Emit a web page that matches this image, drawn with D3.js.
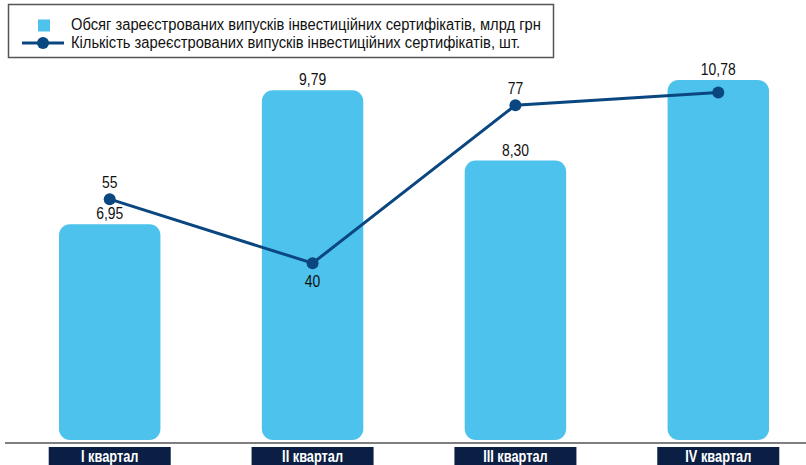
<!DOCTYPE html>
<html>
<head>
<meta charset="utf-8">
<script src="https://cdn.jsdelivr.net/npm/d3@7"></script>
<style>
  html, body { margin: 0; padding: 0; background: #fff; }
  svg { display: block; font-family: "Liberation Sans", Arial, sans-serif; }
</style>
</head>
<body>
<svg id="chart" width="806" height="465"></svg>
<script>
const categories = ["I квартал", "II квартал", "III квартал", "IV квартал"];
const volumeValues = [6.95, 9.79, 8.30, 10.78];
const volumeLabels = ["6,95", "9,79", "8,30", "10,78"];
const countValues = [55, 40, 77, 80];
const countLabels = ["55", "40", "77", ""];
const legendLabels = [
  "Обсяг зареєстрованих випусків інвестиційних сертифікатів, млрд грн",
  "Кількість зареєстрованих випусків інвестиційних сертифікатів, шт."
];

const barColor = "#4cc2ec";
const lineColor = "#0a4780";
const boxColor = "#0b1f44";

const svg = d3.select("#chart");
const at = (x, y, s = 0.82) => `translate(${x},${y}) scale(${s},1)`;

const x = d3.scaleBand().domain(categories).range([59, 769]).paddingInner(0.5).paddingOuter(0);
const yBar = d3.scaleLinear().domain([2.37, 10.01]).range([440, 80]).clamp(true);
const yLine = d3.scaleLinear().domain([0, 100]).range([434, 7]);
const cx = c => x(c) + x.bandwidth() / 2;

// bars
svg.append("g").selectAll("rect").data(categories).join("rect")
  .attr("x", d => x(d))
  .attr("y", (d, i) => yBar(volumeValues[i]))
  .attr("width", x.bandwidth())
  .attr("height", (d, i) => 440 - yBar(volumeValues[i]))
  .attr("rx", 11).attr("ry", 11)
  .attr("fill", barColor);

// bar labels
svg.append("g").selectAll("text").data(categories).join("text")
  .attr("transform", (d, i) => at(cx(d), yBar(volumeValues[i]) - 5))
  .attr("text-anchor", "middle")
  .attr("font-size", 17)
  .attr("fill", "#111")
  .text((d, i) => volumeLabels[i]);

// axis baseline
svg.append("line").attr("x1", 5).attr("x2", 806).attr("y1", 443).attr("y2", 443)
  .attr("stroke", "#7f7f7f").attr("stroke-width", 2);

// category boxes
const cg = svg.append("g").selectAll("g").data(categories).join("g")
  .attr("transform", d => `translate(${cx(d)},0)`);
cg.append("rect").attr("x", -61).attr("y", 447).attr("width", 122).attr("height", 18).attr("fill", boxColor);
cg.append("text").attr("transform", at(0, 461.5, 0.8)).attr("text-anchor", "middle")
  .attr("font-size", 16).attr("font-weight", "bold").attr("fill", "#fff")
  .text(d => d);

// line
const line = d3.line()
  .x((d, i) => cx(categories[i]))
  .y(d => yLine(d));
svg.append("path").datum(countValues).attr("d", line)
  .attr("fill", "none").attr("stroke", lineColor).attr("stroke-width", 3);
svg.append("g").selectAll("circle").data(countValues).join("circle")
  .attr("cx", (d, i) => cx(categories[i]))
  .attr("cy", d => yLine(d))
  .attr("r", 6)
  .attr("fill", lineColor);
svg.append("g").selectAll("text").data(countValues).join("text")
  .attr("transform", (d, i) => at(cx(categories[i]), i === 1 ? yLine(d) + 24 : yLine(d) - 11))
  .attr("text-anchor", "middle")
  .attr("font-size", 17)
  .attr("fill", "#111")
  .text((d, i) => countLabels[i]);

// legend
const lg = svg.append("g");
lg.append("rect").attr("x", 8.5).attr("y", 4.5).attr("width", 545).attr("height", 53)
  .attr("fill", "#fff").attr("stroke", "#555").attr("stroke-width", 1.5);
lg.append("rect").attr("x", 38).attr("y", 19.5).attr("width", 12).attr("height", 12).attr("fill", barColor);
lg.append("line").attr("x1", 22).attr("x2", 64).attr("y1", 43).attr("y2", 43)
  .attr("stroke", lineColor).attr("stroke-width", 3);
lg.append("circle").attr("cx", 43).attr("cy", 43).attr("r", 6).attr("fill", lineColor);
lg.selectAll("text.leg").data(legendLabels).join("text")
  .attr("class", "leg")
  .attr("transform", (d, i) => at(71, 30 + i * 18, 0.92))
  .attr("font-size", 16).attr("fill", "#111")
  .text(d => d);
</script>
</body>
</html>
